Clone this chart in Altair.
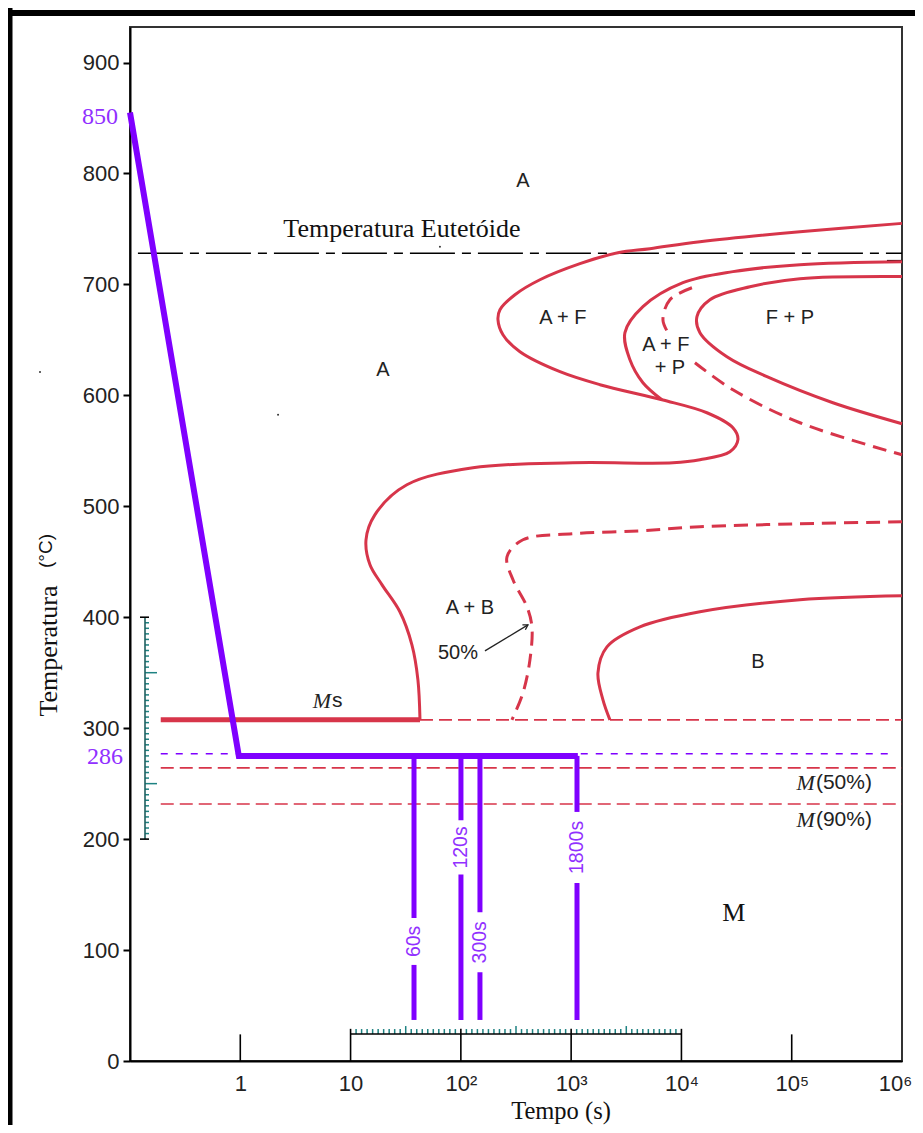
import altair as alt
import pandas as pd

RED = "#D7354A"
PURPLE = "#7F00FF"
PURPLE_TXT = "#9130FF"
TEAL = "#1E8282"
SANS = "Liberation Sans"
SERIF = "Liberation Serif"

# ---------------- data (time in s, temperature in °C) ----------------
# start of transformation (A -> A+F ... A -> A+B), solid
start_t = [1e6, 118700, 14716, 5180, 2656, 1202, 521, 309.4, 226.2, 217, 240.8, 343.4, 792, 1824,
           6656, 17025, 29303, 32532, 27518, 14716, 8375, 1038, 128.7, 32.4, 16.6, 13.8, 15.0, 19.3,
           28.0, 36.0, 40.8, 42.6]
start_T = [755, 747.5, 738.5, 732.2, 728.6, 718.7, 704.2, 690.7, 677.2, 668.2, 654.6, 639.3, 621.3, 609.6,
           596, 584.3, 570.8, 560, 549.1, 541.9, 539.2, 539.2, 534.7, 519.4, 492.3, 469.8, 447.3, 429.2,
           404.9, 375.1, 343.6, 307.5]
# end of ferrite / start of pearlite, solid
afp_t = [1e6, 118700, 29303, 10318, 4477, 3074, 3413, 4477, 6656]
afp_T = [720.5, 717.8, 711.5, 701.5, 679.9, 656.5, 632.1, 611.4, 596]
# 50 % pearlite, dashed (two pieces, broken by the label)
p50a_t = [12455, 7864, 6797, 7550]
p50a_T = [697, 686.2, 668.2, 656.5]
p50b_t = [13260, 29303, 118700, 1e6]
p50b_T = [629.4, 605, 575.3, 546.4]
# end of pearlite, solid
fp_t = [1e6, 118700, 41800, 18130, 13825, 14716, 25848, 59610, 236300, 1e6]
fp_T = [707, 705.1, 697.9, 686.2, 670.9, 656.5, 634.8, 616.8, 593.3, 574.4]
# 50 % bainite, dashed
b50_t = [1e6, 118700, 14716, 4205, 1038, 365.6, 262, 297, 397.5, 441, 423, 365.6, 290.5]
b50_T = [486, 484.2, 481.5, 477.9, 475.2, 469.8, 454.5, 433.7, 409.4, 391.3, 361.6, 331.8, 307.5]
# end of bainite, solid
bend_t = [1e6, 118700, 14716, 4205, 2112, 1750, 1943, 2247]
bend_T = [419.3, 415.7, 404.9, 391.3, 373.3, 349.9, 325.5, 307.5]

# horizontal temperatures
T_eut = 728
T_ms = 307.5
T_m50 = 264.2
T_m90 = 231.7
T_hold_ref = 277
line_t0 = 0.19
eut_t0 = 0.118
ms_t_end = 42.6
hold_ref_t_end = 827000
stub_t = [730000, 1e6]
stub_T = 721.4

# heat-treatment path
path_t = [0.1, 0.97, 1150]
path_T = [855, 275, 275]
hold_t = [37.6, 100.2, 149, 1130]
hold_lbl = ["60s", "120s", "300s", "1800s"]
gap_top = [129, 217, 134, 224.5]
gap_bot = [86.6, 168, 80, 160.5]
quench_T = 37

# region labels
reg_lbl = ["A", "A + F", "A + F", "+ P", "F + P", "A", "A + B", "50%", "B"]
reg_t = [365.6, 842.6, 7236, 7864, 96300, 19.7, 120.9, 94.1, 49400]
reg_T = [793.5, 670, 645.6, 624.9, 670, 623.1, 408.5, 367.9, 359.8]
arrow_t = [165.4, 405.9]
arrow_T = [369.7, 393.1]

# stray specks of the scanned figure
speck_t = [2.2, 64.6]
speck_T = [582.5, 734]

x_ticks = [1, 10, 100, 1000, 10000, 100000, 1000000]
x_tick_text = ["1", "10", "10²", "10³", "10⁴", "10⁵", "10⁶"]
y_ticks = [0, 100, 200, 300, 400, 500, 600, 700, 800, 900]

# ---------------- scales / axes ----------------
xs = alt.Scale(type="log", domain=[0.1, 1e6], nice=False)
ys = alt.Scale(domain=[0, 932], nice=False, zero=False)
label_expr = "[" + ",".join("'%s'" % s for s in x_tick_text) + "][round(log(datum.value)/LN10)]"
xaxis = alt.Axis(values=x_ticks, ticks=False, labelExpr=label_expr, labelFont=SANS, labelFontSize=22,
                 labelColor="#222", labelPadding=12, domainColor="black", domainWidth=2, grid=False,
                 title=None, labelFlush=False, labelOverlap=False,
                 labelOffset={"condition": {"test": "datum.value >= 999999", "value": -7}, "value": 0})
yaxis = alt.Axis(values=y_ticks, tickSize=7, tickColor="black", tickWidth=2, labelFont=SANS,
                 labelFontSize=22, labelColor="#222", labelPadding=4, domainColor="black", domainWidth=2,
                 grid=False, title=None, labelFlush=False, labelOverlap=False)


def X(f):
    return alt.X(f, type="quantitative", scale=xs, axis=xaxis)


def Y(f):
    return alt.Y(f, type="quantitative", scale=ys, axis=yaxis)


def path_df(ts, Ts, seg="a"):
    return pd.DataFrame({"t": ts, "T": Ts, "seg": seg, "i": list(range(len(ts)))})


def curve(df, color, width, dash=None, interp="catmull-rom"):
    kw = dict(color=color, strokeWidth=width, interpolate=interp)
    if dash:
        kw["strokeDash"] = dash
    return alt.Chart(df).mark_line(**kw).encode(x=X("t"), y=Y("T"), detail="seg:N", order="i:Q")


def hrule(t1, t2, T, color, width, dash=None):
    df = pd.DataFrame({"t1": [t1], "t2": [t2], "T": [T]})
    kw = dict(color=color, strokeWidth=width)
    if dash:
        kw["strokeDash"] = dash
    return alt.Chart(df).mark_rule(**kw).encode(x=X("t1"), x2="t2", y=Y("T"))


one = pd.DataFrame({"a": [0]})
layers = []

# outer frame of the picture
layers.append(alt.Chart(one).mark_rule(color="black", strokeWidth=6).encode(
    x=alt.value(-122), x2=alt.value(793), y=alt.value(-14)))
layers.append(alt.Chart(one).mark_rule(color="black", strokeWidth=5).encode(
    x=alt.value(-120), y=alt.value(-19), y2=alt.value(1110)))

# inner x ticks
xt = pd.DataFrame({"t": x_ticks[:-1], "top": [24, 29, 29, 29, 29, 24]})
layers.append(alt.Chart(xt).mark_rule(color="black", strokeWidth=1.6).encode(
    x=X("t"), y=Y("top"), y2=alt.datum(0)))

# mini vertical scale (200-400 °C)
mv_T = [v for v in range(205, 400, 5)]
mv_small = pd.DataFrame({"T": [v for v in mv_T if v not in (250, 350)]})
mv_long = pd.DataFrame({"T": [250, 350]})
layers.append(alt.Chart(mv_small).mark_rule(color=TEAL, strokeWidth=1.5).encode(
    x=alt.value(15), x2=alt.value(19), y=Y("T")))
layers.append(alt.Chart(mv_long).mark_rule(color=TEAL, strokeWidth=1.5).encode(
    x=alt.value(15), x2=alt.value(27), y=Y("T")))
layers.append(alt.Chart(pd.DataFrame({"T1": [200], "T2": [400]})).mark_rule(
    color="#1f5f5f", strokeWidth=1.6).encode(x=alt.value(15), y=Y("T1"), y2="T2"))
layers.append(alt.Chart(pd.DataFrame({"T": [200, 400]})).mark_rule(color="black", strokeWidth=1.6).encode(
    x=alt.value(10), x2=alt.value(19), y=Y("T")))

# mini horizontal log scale (10 - 10^4 s)
T_mini = 24.3
mh_e = [1 + i / 20 for i in range(61) if i % 20 != 0]
mh = pd.DataFrame({"t": [10 ** e for e in mh_e],
                   "top": [31.5 if abs((e * 2) - round(e * 2)) < 1e-9 else 28.8 for e in mh_e]})
layers.append(alt.Chart(mh).mark_rule(color=TEAL, strokeWidth=1.5).encode(
    x=X("t"), y=Y("top"), y2=alt.datum(T_mini)))
layers.append(hrule(10, 10000, T_mini, "black", 1.6))

# horizontal reference lines
layers.append(hrule(eut_t0, 1e6, T_eut, "black", 1.5, [45, 7, 9, 7]))
layers.append(hrule(stub_t[0], stub_t[1], stub_T, "black", 1.5))
layers.append(hrule(line_t0, ms_t_end, T_ms, RED, 5))
layers.append(hrule(ms_t_end, 1e6, T_ms, RED, 1.6, [13, 6]))
layers.append(hrule(line_t0, 1e6, T_m50, RED, 1.6, [13, 6]))
layers.append(hrule(line_t0, 1e6, T_m90, RED, 1.6, [13, 6]))
layers.append(hrule(line_t0, hold_ref_t_end, T_hold_ref, PURPLE, 1.6, [7, 8]))

# TTT curves
solid = pd.concat([path_df(start_t, start_T, "start"), path_df(afp_t, afp_T, "afp"),
                   path_df(fp_t, fp_T, "fp"), path_df(bend_t, bend_T, "bend")])
dashed = pd.concat([path_df(p50a_t, p50a_T, "p50a"), path_df(p50b_t, p50b_T, "p50b"),
                    path_df(b50_t, b50_T, "b50")])
layers.append(curve(solid, RED, 3))
layers.append(curve(dashed, RED, 3, [14, 8]))

# heat-treatment path
layers.append(curve(path_df(path_t, path_T, "path"), PURPLE, 6, interp="linear"))
vseg = pd.DataFrame({"t": hold_t + hold_t,
                     "T1": [path_T[-1]] * 4 + gap_bot,
                     "T2": gap_top + [quench_T] * 4})
layers.append(alt.Chart(vseg).mark_rule(color=PURPLE, strokeWidth=5).encode(
    x=X("t"), y=Y("T1"), y2="T2"))
vlab = pd.DataFrame({"t": hold_t, "T": [(a + b) / 2 for a, b in zip(gap_top, gap_bot)], "label": hold_lbl})
layers.append(alt.Chart(vlab).mark_text(font=SANS, fontSize=19.5, color=PURPLE_TXT, angle=270,
                                        align="center", baseline="middle").encode(
    x=X("t"), y=Y("T"), text="label"))

# region labels
reg = pd.DataFrame({"t": reg_t, "T": reg_T, "label": reg_lbl})
layers.append(alt.Chart(reg).mark_text(font=SANS, fontSize=20, color="#222",
                                       align="center", baseline="middle").encode(
    x=X("t"), y=Y("T"), text="label"))
# arrow 50%
layers.append(curve(path_df(arrow_t, arrow_T, "arrow"), "#222", 1.3, interp="linear"))
layers.append(alt.Chart(pd.DataFrame({"t": [arrow_t[-1]], "T": [arrow_T[-1]]})).mark_point(
    shape="M -1 -0.6 L 0 0 L -1 0.6", filled=False, color="#222", strokeWidth=1.3, size=90, angle=329,
    opacity=1).encode(x=X("t"), y=Y("T")))

# specks
layers.append(alt.Chart(pd.DataFrame({"t": speck_t, "T": speck_T})).mark_point(
    filled=True, color="#333", size=4, opacity=1).encode(x=X("t"), y=Y("T")))
layers.append(alt.Chart(one).mark_point(filled=True, color="#333", size=4, opacity=1).encode(
    x=alt.value(-90), y=alt.value(345)))

# serif / italic texts
texts_serif = pd.DataFrame({"t": [29.2, 29900], "T": [750.2, 133.5],
                            "label": ["Temperatura Eutetóide", "M"]})
layers.append(alt.Chart(texts_serif).mark_text(font=SERIF, fontSize=26, color="#111",
                                               align="center", baseline="middle").encode(
    x=X("t"), y=Y("T"), text="label"))
mlab = pd.DataFrame({"t": [6.64, 162300, 162300], "T": [324.6, 250.7, 217.3]})
layers.append(alt.Chart(mlab).mark_text(font=SERIF, fontStyle="italic", fontSize=22, color="#222",
                                        align="right", baseline="middle", text="M").encode(
    x=X("t"), y=Y("T")))
mlab2 = pd.DataFrame({"t": [6.64, 162300, 162300], "T": [324.6, 250.7, 217.3],
                      "label": ["s", "(50%)", "(90%)"]})
layers.append(alt.Chart(mlab2).mark_text(font=SANS, fontSize=21, color="#222",
                                         align="left", baseline="middle", dx=1).encode(
    x=X("t"), y=Y("T"), text="label"))

# purple temperature labels on the axis
lab850 = pd.DataFrame({"T": [851], "label": ["850"]})
lab286 = pd.DataFrame({"T": [274], "label": ["286"]})
layers.append(alt.Chart(lab850).mark_text(
    font=SERIF, fontSize=24, color=PURPLE_TXT, align="right", baseline="middle").encode(
    x=alt.value(-12), y=Y("T"), text="label"))
layers.append(alt.Chart(lab286).mark_text(
    font=SERIF, fontSize=24, color=PURPLE_TXT, align="right", baseline="middle").encode(
    x=alt.value(-7), y=Y("T"), text="label"))

# axis titles
layers.append(alt.Chart(one).mark_text(font=SERIF, fontSize=24.5, color="#111", align="center",
                                       baseline="middle", text="Tempo (s)").encode(
    x=alt.value(431), y=alt.value(1085)))
layers.append(alt.Chart(one).mark_text(font=SERIF, fontSize=26, color="#111", align="center",
                                       baseline="middle", angle=270, text="Temperatura").encode(
    x=alt.value(-81), y=alt.value(624)))
layers.append(alt.Chart(one).mark_text(font=SANS, fontSize=19, color="#111", align="center",
                                       baseline="middle", angle=270, text="(°C)").encode(
    x=alt.value(-84), y=alt.value(524)))

chart = alt.layer(*layers).properties(
    width=772, height=1034,
    autosize=alt.AutoSizeParams(type="none"),
    padding={"left": 122, "top": 19, "right": 13, "bottom": 64},
    background="white",
).configure_view(stroke="#333", strokeWidth=2)

chart.save("out.html", embed_options={"renderer": "svg", "actions": False})
